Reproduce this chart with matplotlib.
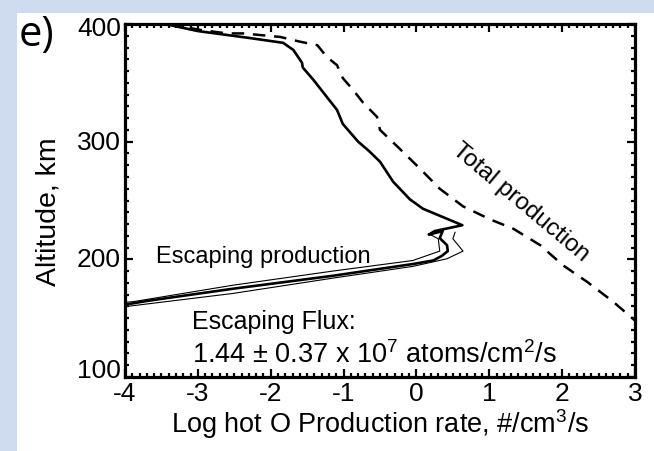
import matplotlib
matplotlib.use("Agg")
import matplotlib.pyplot as plt
from matplotlib.patches import Rectangle
from matplotlib.ticker import MultipleLocator
from matplotlib.transforms import blended_transform_factory, offset_copy

plt.rcParams['font.family'] = ['Liberation Sans', 'DejaVu Sans']
plt.rcParams['mathtext.fontset'] = 'custom'
plt.rcParams['mathtext.rm'] = 'Liberation Sans'
plt.rcParams['mathtext.it'] = 'Liberation Sans:italic'
plt.rcParams['axes.unicode_minus'] = False

# total production (dashed), log rate vs altitude
total_x = [-3.40, -2.97, -2.60, -2.38, -1.87, -1.60, -1.36, -1.23, -1.09, -1.01,
           -0.87, -0.73, -0.54, -0.50, -0.23, 0.05, 0.32, 0.64, 1.01, 1.33,
           1.70, 2.01, 2.34, 2.70, 3.00]
total_alt = [400, 395, 392, 392, 389, 385, 382, 372, 365, 354,
             344, 333, 321, 310, 294, 277, 260, 245, 234, 226,
             212, 195, 181, 164, 148]

# escaping production (thick solid)
esc_x = [-3.45, -3.0, -2.28, -1.83, -1.69, -1.57, -1.56, -1.42, -1.23, -1.09,
         -1.01, -0.80, -0.65, -0.50, -0.32, -0.09, 0.09, 0.36, 0.63, 0.25,
         0.17, 0.36, 0.32, 0.42, 0.43, 0.35, 0.23, -0.05, -1.15, -2.52,
         -3.66, -4.0]
esc_alt = [400, 394, 388, 384, 378, 367, 363, 353, 338, 327,
           315, 300, 292, 283, 266, 251, 243, 236, 229, 224,
           221, 224, 218, 212, 207, 203, 199, 196, 186, 175,
           165, 161.5]

# escaping production envelope (thin solid)
esc_hi_x = [0.19, 0.30, 0.32, -0.05, -1.15, -2.52, -3.89, -4.0]
esc_hi_alt = [221, 217.5, 207, 199, 190, 178, 164, 163.5]
esc_lo_x = [0.53, 0.50, 0.64, 0.42, -0.05, -1.15, -2.52, -3.97, -4.0]
esc_lo_alt = [223, 217.5, 207, 200.5, 194, 184, 171, 160, 159.7]

alt_ticks = [100, 200, 300, 400]
alt_shift = [7, 0, 0, -4]   # px, edge labels pulled inside the frame

fig = plt.figure(figsize=(6.54, 4.52), dpi=100)
fig.patch.set_facecolor('#cfdcf0')
fig.patches.append(Rectangle((17 / 654, 0), 1, 1 - 14 / 452, transform=fig.transFigure,
                             facecolor='white', edgecolor='none', zorder=-5))

ax = fig.add_axes([125 / 654, 1 - 378 / 452, 510 / 654, 353 / 452])
ax.plot(total_x, total_alt, color='black', lw=1.8, dashes=(5, 3.5))
ax.plot(esc_hi_x, esc_hi_alt, color='black', lw=0.8)
ax.plot(esc_lo_x, esc_lo_alt, color='black', lw=0.8)
ax.plot(esc_x, esc_alt, color='black', lw=1.9)

ax.set_xlim(-4, 3)
ax.set_ylim(100, 400)
ax.xaxis.set_major_locator(MultipleLocator(1))
ax.xaxis.set_minor_locator(MultipleLocator(0.1))
ax.set_yticks(alt_ticks)
ax.yaxis.set_minor_locator(MultipleLocator(10))
ax.tick_params(which='both', direction='in', top=True, right=True, labelsize=19,
               width=1.6, labelleft=False)
ax.tick_params(axis='x', pad=3)
ax.tick_params(which='major', length=6)
ax.tick_params(which='minor', length=3)
for s in ax.spines.values():
    s.set_linewidth(2.3)

# y tick labels drawn by hand so the end ones can sit inside the frame
trans = blended_transform_factory(ax.transAxes, ax.transData)
for v, dy in zip(alt_ticks, alt_shift):
    ax.text(-0.008, v, str(v), fontsize=19, ha='right', va='center',
            transform=offset_copy(trans, fig=fig, y=dy, units='dots'))

ax.set_xlabel('Log hot O Production rate, #/cm$^3$/s', fontsize=19.5, labelpad=1)
ax.set_ylabel('Altitude, km', fontsize=20.5)
ax.yaxis.set_label_coords(-0.125, 0.47)

ax.text(-3.58, 203, 'Escaping production', fontsize=17, ha='left', va='center')
ax.text(1.43, 249, 'Total production', fontsize=17.5, ha='center', va='center',
        rotation=-40, rotation_mode='anchor')
ax.text(-3.08, 141.5, 'Escaping Flux:', fontsize=18, ha='left', va='baseline')
ax.text(-3.08, 112.5, '1.44 \u00b1 0.37 x 10$^7$ atoms/cm$^2$/s', fontsize=19.5,
        ha='left', va='baseline')

fig.text(19 / 654, 1 - 35 / 452, 'e)', fontsize=30, family='Open Sans',
         ha='left', va='center')

fig.savefig('out.png', dpi=100, facecolor=fig.get_facecolor())
